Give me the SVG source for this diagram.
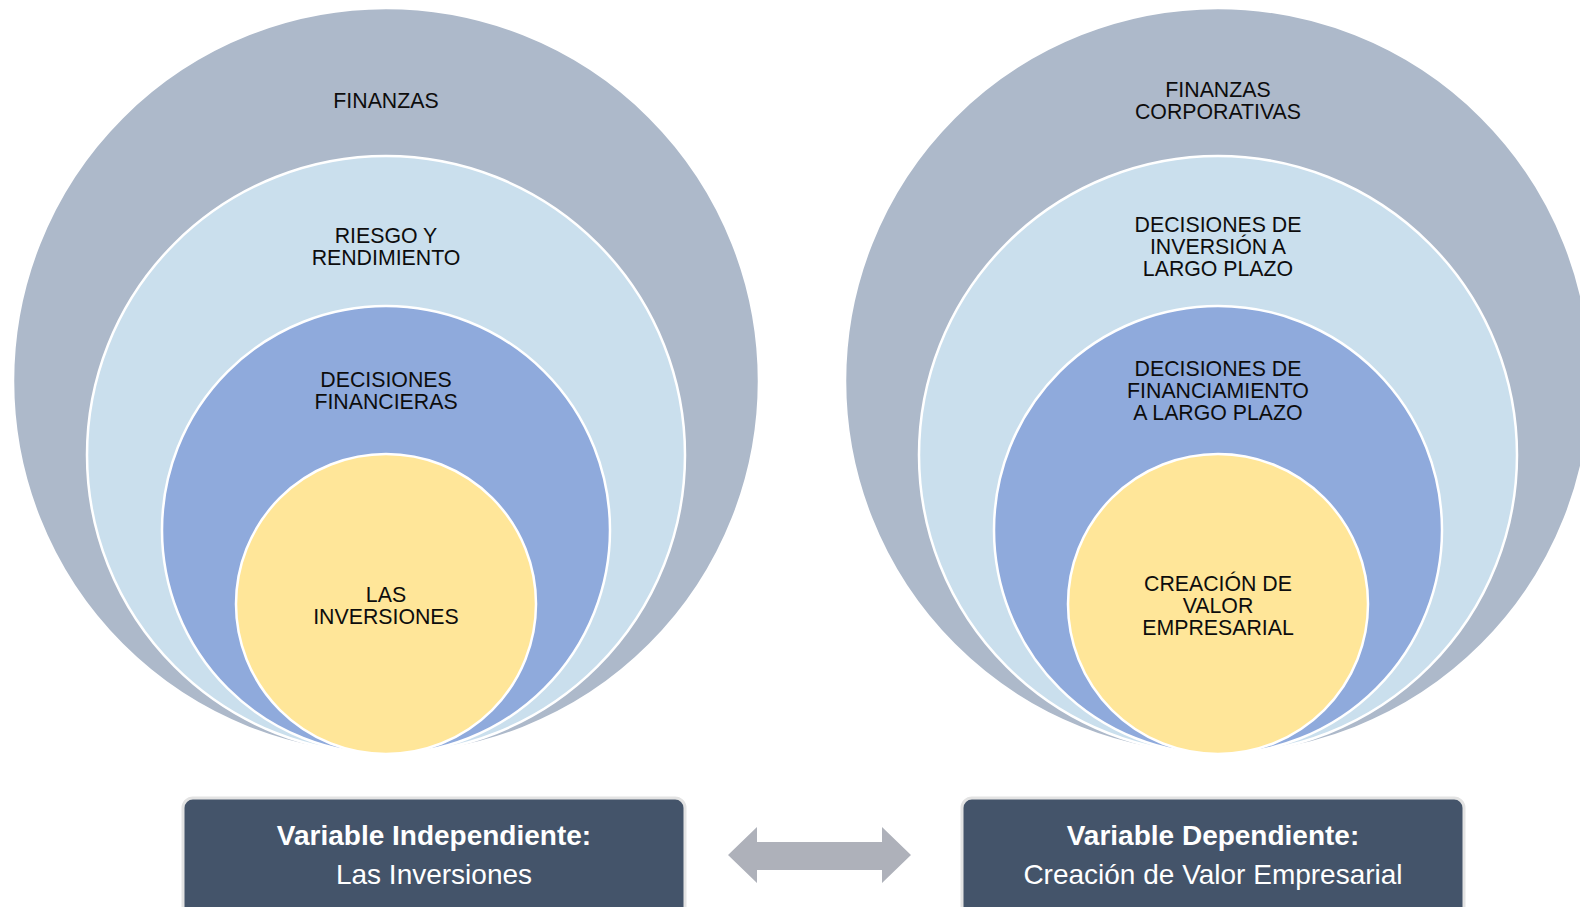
<svg xmlns="http://www.w3.org/2000/svg" width="1580" height="907" viewBox="0 0 1580 907">
<style>
.c1{fill:#ADB9CA;stroke:#FFFFFF;stroke-width:2.5}
.c2{fill:#CADFED;stroke:#FFFFFF;stroke-width:2.5}
.c3{fill:#8FAADC;stroke:#FFFFFF;stroke-width:2.5}
.c4{fill:#FFE699;stroke:#FFFFFF;stroke-width:2.5}
.lbl{font-family:"Liberation Sans",Arial,sans-serif;font-size:21.3px;fill:#0D0D0D;text-anchor:middle}
.box{fill:#44546A;stroke:#E3E3E3;stroke-width:3}
.bt{font-family:"Liberation Sans",Arial,sans-serif;font-size:28px;fill:#FFFFFF;text-anchor:middle}
.b{font-weight:bold}
.arr{fill:#AEB1BA}
</style>
<rect width="1580" height="907" fill="#FFFFFF"/>
<g id="left-finanzas">
<circle class="c1" cx="386" cy="381" r="373"/>
<text class="lbl" x="386" y="108">FINANZAS</text>
</g>
<g id="left-riesgo">
<circle class="c2" cx="386" cy="455" r="299"/>
<text class="lbl" x="386" y="243">RIESGO Y</text>
<text class="lbl" x="386" y="265">RENDIMIENTO</text>
</g>
<g id="left-decisiones">
<circle class="c3" cx="386" cy="530" r="224"/>
<text class="lbl" x="386" y="387">DECISIONES</text>
<text class="lbl" x="386" y="409">FINANCIERAS</text>
</g>
<g id="left-inversiones">
<circle class="c4" cx="386" cy="604" r="150"/>
<text class="lbl" x="386" y="602">LAS</text>
<text class="lbl" x="386" y="624">INVERSIONES</text>
</g>
<g id="right-finanzas-corporativas">
<circle class="c1" cx="1218" cy="381" r="373"/>
<text class="lbl" x="1218" y="97">FINANZAS</text>
<text class="lbl" x="1218" y="119">CORPORATIVAS</text>
</g>
<g id="right-inversion">
<circle class="c2" cx="1218" cy="455" r="299"/>
<text class="lbl" x="1218" y="232">DECISIONES DE</text>
<text class="lbl" x="1218" y="254">INVERSIÓN A</text>
<text class="lbl" x="1218" y="276">LARGO PLAZO</text>
</g>
<g id="right-financiamiento">
<circle class="c3" cx="1218" cy="530" r="224"/>
<text class="lbl" x="1218" y="376">DECISIONES DE</text>
<text class="lbl" x="1218" y="398">FINANCIAMIENTO</text>
<text class="lbl" x="1218" y="420">A LARGO PLAZO</text>
</g>
<g id="right-creacion">
<circle class="c4" cx="1218" cy="604" r="150"/>
<text class="lbl" x="1218" y="591">CREACIÓN DE</text>
<text class="lbl" x="1218" y="613">VALOR</text>
<text class="lbl" x="1218" y="635">EMPRESARIAL</text>
</g>
<g id="box-independiente">
<rect class="box" x="183" y="798" width="502" height="130" rx="10"/>
<text class="bt b" x="434" y="845">Variable Independiente:</text>
<text class="bt" x="434" y="884">Las Inversiones</text>
</g>
<g id="box-dependiente">
<rect class="box" x="962" y="798" width="502" height="130" rx="10"/>
<text class="bt b" x="1213" y="845">Variable Dependiente:</text>
<text class="bt" x="1213" y="884">Creación de Valor Empresarial</text>
</g>
<g id="connectors">
<polygon class="arr" points="728,855 757,827 757,842 882,842 882,827 911,855 882,883 882,870 757,870 757,883"/>
</g>
</svg>
